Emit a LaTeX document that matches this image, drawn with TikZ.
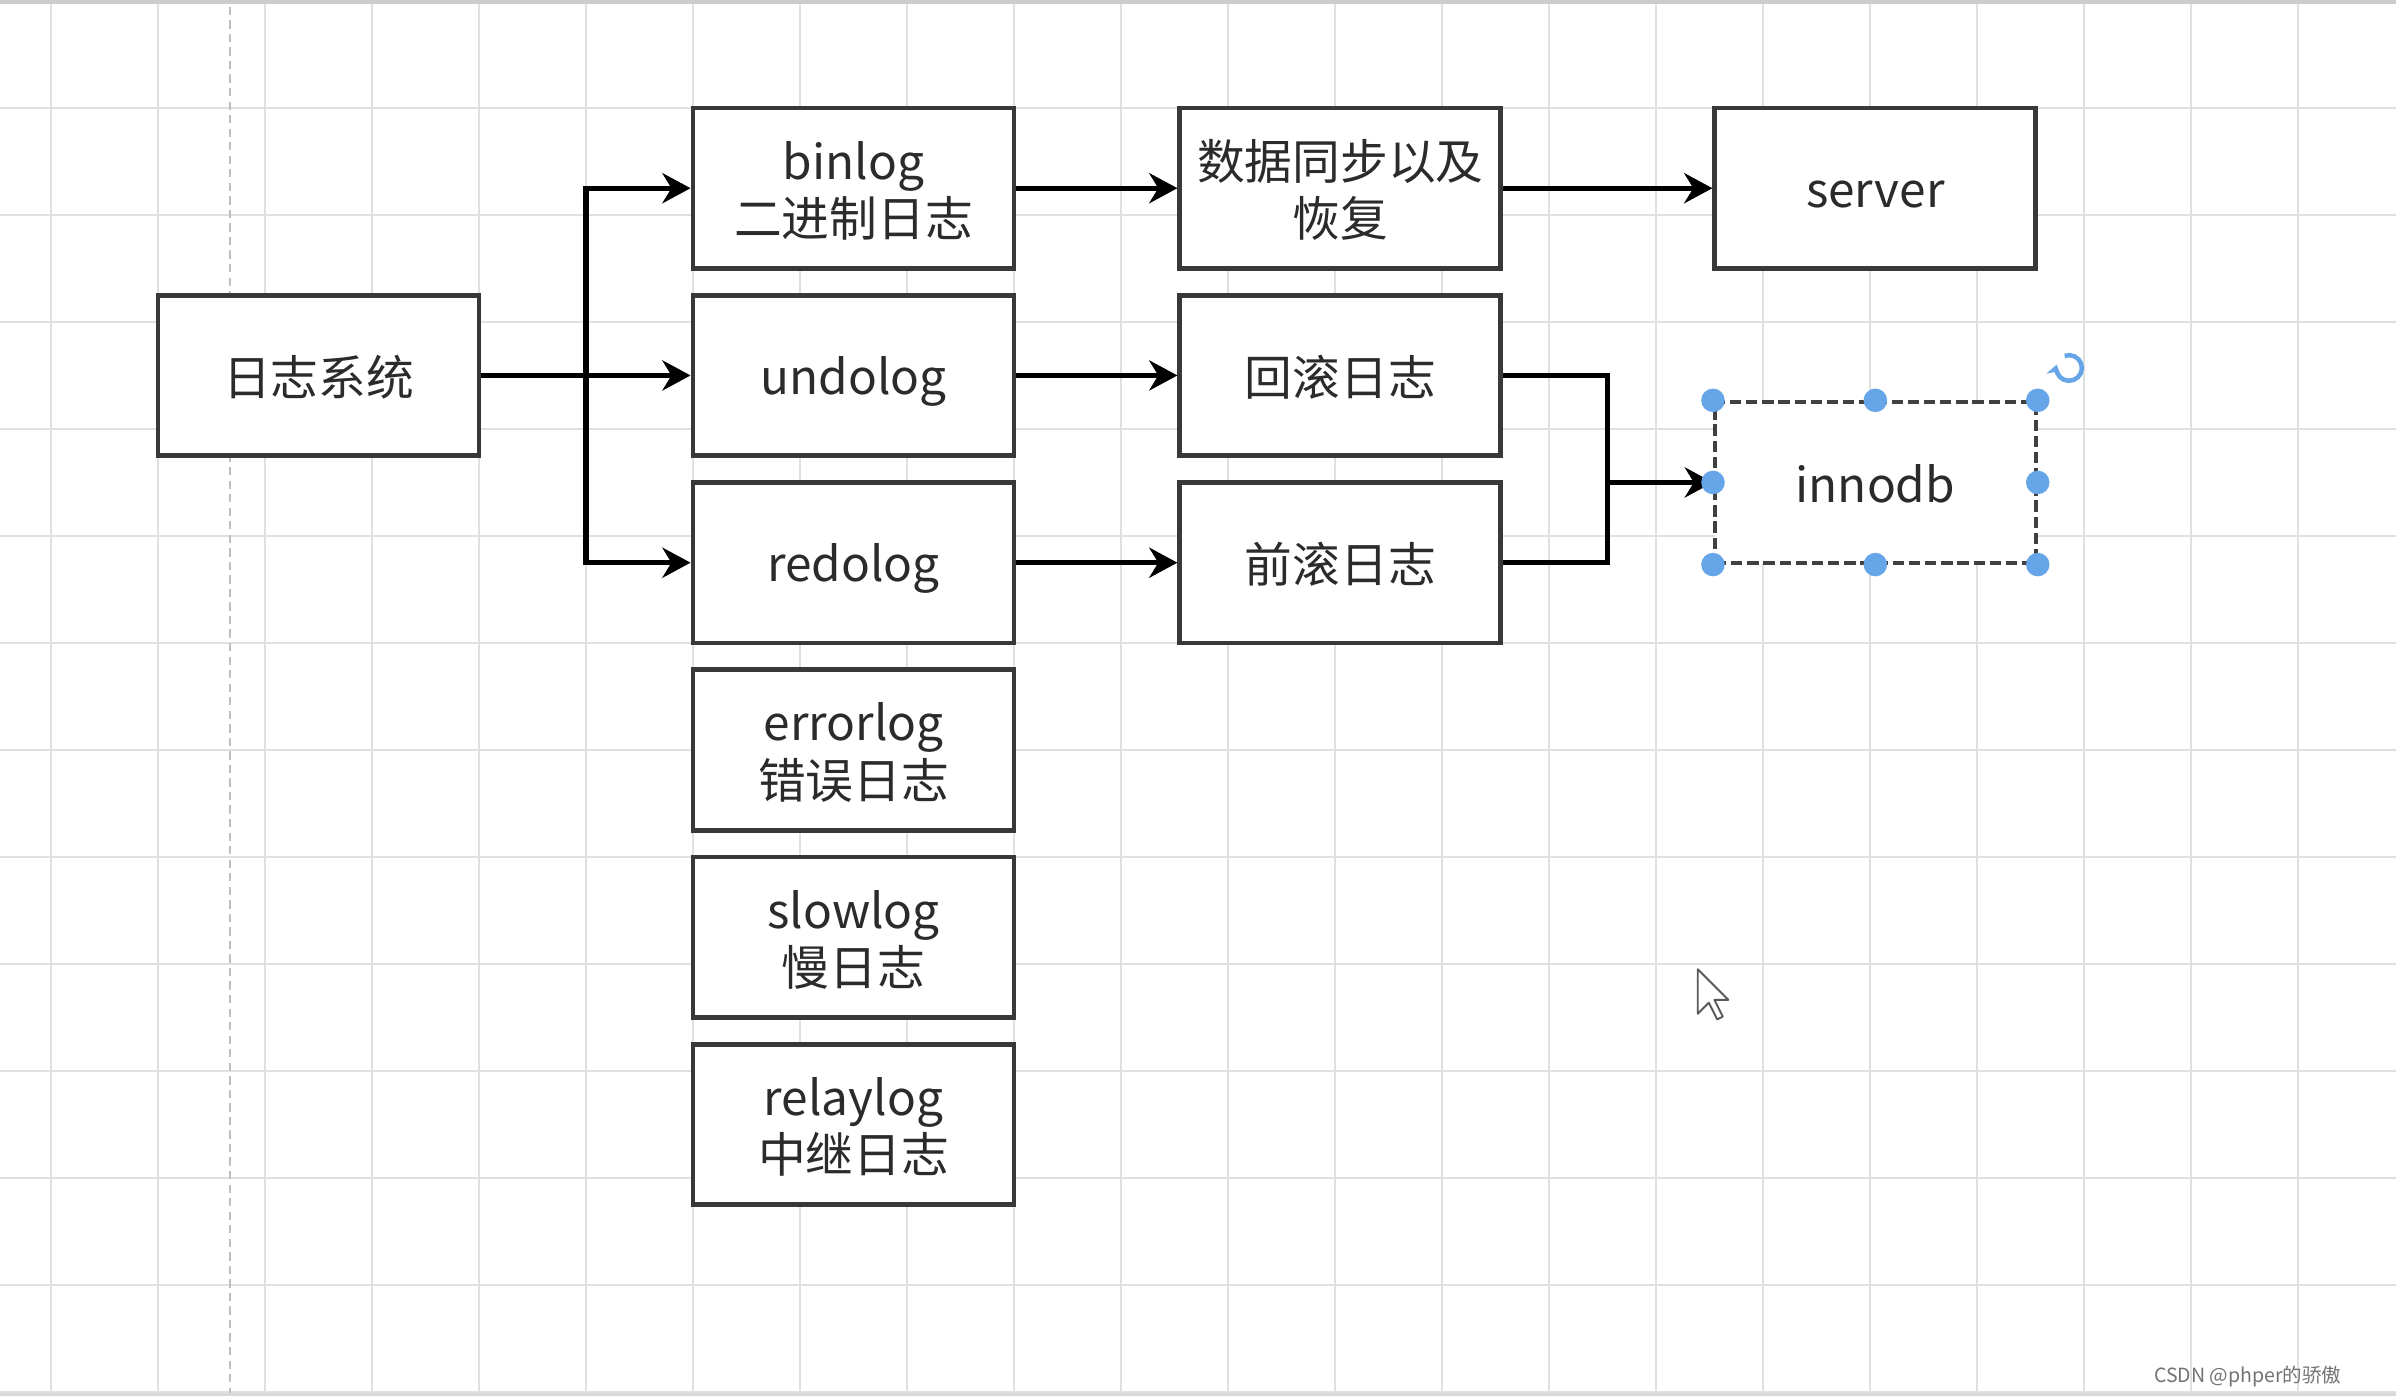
\documentclass[tikz,border=0pt]{standalone}
\usepackage{fontspec}
\setmainfont{Noto Sans CJK SC}
\usetikzlibrary{arrows.meta}
\definecolor{inkgray}{HTML}{2B2B2B}
\definecolor{selblue}{HTML}{66A6E8}
\newcommand{\ls}{\rule[-3pt]{0pt}{16.4pt}}
\newcommand{\boxfont}{\fontsize{12.7}{15.2}\selectfont\lineskiplimit=-20pt\relax}
\tikzset{>={Stealth[length=7.5pt,width=8pt,inset=2.4pt]},
  logbox/.style={draw=black!78, line width=1.3pt, fill=white, minimum width=3cm, minimum height=1.5cm,
    inner sep=0pt, align=center, text=inkgray, font=\boxfont},
  selbox/.style={draw=black!75, line width=1pt, dash pattern=on 3pt off 1.3pt},
  link/.style={line width=1.35pt}}

\begin{document}
\begin{tikzpicture}
\useasboundingbox (-0.477,-0.037) rectangle (21.916,13.009);
\fill[white] (-0.477,-0.037) rectangle (21.916,13.009);
\draw[black!12, line width=0.6pt] (-0.477,-0.037) grid (21.916,13.009);
\draw[black!25, line width=0.6pt, dash pattern=on 2.2pt off 1.4pt] (1.67,-0.037) -- (1.67,13.009);
\draw[black!20, line width=1pt] (-0.477,12.99) -- (21.916,12.99);
\draw[black!15, line width=0.6pt] (-0.477,-0.025) -- (21.916,-0.025);

\node[logbox] (sys) at (2.5,9.5) {\ls 日志系统};
\node[logbox] (binlog) at (7.5,11.25) {\ls binlog\\\ls 二进制日志};
\node[logbox] (undolog) at (7.5,9.5) {\ls undolog};
\node[logbox] (redolog) at (7.5,7.75) {\ls redolog};
\node[logbox] (errorlog) at (7.5,6) {\ls errorlog\\\ls 错误日志};
\node[logbox] (slowlog) at (7.5,4.25) {\ls slowlog\\\ls 慢日志};
\node[logbox] (relaylog) at (7.5,2.5) {\ls relaylog\\\ls 中继日志};
\node[logbox] (sync) at (12.05,11.25) {\ls 数据同步以及\\\ls 恢复};
\node[logbox] (rollback) at (12.05,9.5) {\ls 回滚日志};
\node[logbox] (rollfwd) at (12.05,7.75) {\ls 前滚日志};
\node[logbox] (server) at (17.05,11.25) {\ls server};
\node[logbox, selbox] (innodb) at (17.05,8.5) {\ls innodb};

\coordinate (fork) at (5,9.5);
\coordinate (join) at (14.55,8.5);
\draw[link,->] (sys) -- (undolog);
\draw[link,->] (fork) |- (binlog);
\draw[link,->] (fork) |- (redolog);
\draw[link,->] (binlog) -- (sync);
\draw[link,->] (undolog) -- (rollback);
\draw[link,->] (redolog) -- (rollfwd);
\draw[link,->] (sync) -- (server);
\draw[link] (rollback) -| (join);
\draw[link] (rollfwd) -| (join);
\draw[link,->] (join) -- (innodb);

\foreach \a in {north west,north,north east,east,south east,south,south west,west}
  \fill[selblue] (innodb.\a) circle (0.11);
\coordinate (rot) at (18.86,9.57);
\draw[selblue, line width=1.2pt, -{Stealth[length=3pt,width=4pt]}] ([shift={(110:0.12)}]rot) arc[start angle=110, end angle=-195, radius=0.12];

\begin{scope}[shift={(15.39,3.95)}, x=0.026cm, y=-0.026cm]
\draw[fill=white, draw=black!65, line width=0.5pt, line join=round] (0,0) -- (0,16) -- (4,12) -- (7,18) -- (9,17) -- (6,11) -- (11,11) -- cycle;
\end{scope}

\node[anchor=east, text=black!55, font=\fontsize{5.2}{6}\selectfont] (mark) at (21.53,0.14) {CSDN @phper的骄傲};
\end{tikzpicture}
\end{document}
